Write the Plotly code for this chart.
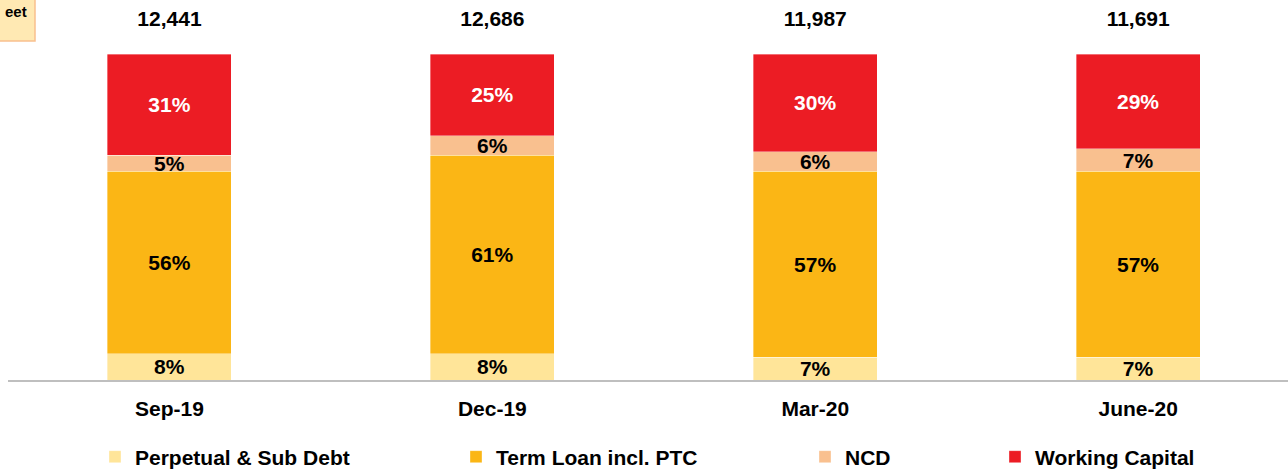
import plotly.graph_objects as go

periods = ["Sep-19", "Dec-19", "Mar-20", "June-20"]
totals = [12441, 12686, 11987, 11691]
perpetual = [8, 8, 7, 7]
term_loan = [56, 61, 57, 57]
ncd = [5, 6, 6, 7]
working_capital = [31, 25, 30, 29]

series = [
    ("Perpetual & Sub Debt", perpetual, "#FFE599", "#000000", "legend"),
    ("Term Loan incl. PTC", term_loan, "#FBB615", "#000000", "legend2"),
    ("NCD", ncd, "#F9C08F", "#000000", "legend3"),
    ("Working Capital", working_capital, "#EC1C24", "#FFFFFF", "legend4"),
]

FONT = "Liberation Sans, Arial, sans-serif"
FS = 21
fig = go.Figure()
for name, vals, color, tcolor, lg in series:
    fig.add_trace(go.Bar(
        x=periods, y=vals, name=name, legend=lg,
        marker=dict(color=color, line=dict(width=0.6, color="rgba(255,255,255,0.6)")),
        width=0.384,
        text=[f"{v}%" for v in vals], texttemplate="%{text}",
        textposition="inside", insidetextanchor="middle",
        textangle=0, constraintext="none",
        textfont=dict(family=FONT, size=FS, color=tcolor, weight="bold"),
        hoverinfo="skip",
    ))

fig.add_trace(go.Scatter(
    x=periods, y=[110.2] * len(periods), mode="text",
    text=[f"{t:,}" for t in totals],
    textfont=dict(family=FONT, size=FS, color="#000000", weight="bold"),
    showlegend=False, hoverinfo="skip",
))

W, H = 1288, 469
ml, mr, mt, mb = 8, 0, 0, 89
pw = W - ml - mr
ph = H - mt - mb

def lx(px):
    return (px - ml) / pw

def ly(py):
    return (H - mb - py) / ph

leg_y = ly(457)
legend_common = dict(orientation="h", yanchor="middle", y=leg_y, xanchor="left",
                     font=dict(family=FONT, size=FS, color="#000000", weight="bold"),
                     bgcolor="rgba(0,0,0,0)", itemwidth=30, itemclick=False)

fig.update_layout(
    width=W, height=H,
    margin=dict(l=ml, r=mr, t=mt, b=mb, autoexpand=False),
    barmode="stack",
    plot_bgcolor="#FFFFFF", paper_bgcolor="#FFFFFF",
    xaxis=dict(range=[-0.5, 3.464], showgrid=False, zeroline=False,
               showline=True, linecolor="#BFBFBF", linewidth=2,
               ticks="", ticklabelstandoff=9, automargin=False,
               tickfont=dict(family=FONT, size=FS, color="#000000", weight="bold")),
    yaxis=dict(range=[0, 116.6], visible=False, showgrid=False, zeroline=False),
    legend=dict(legend_common, x=lx(95)),
    legend2=dict(legend_common, x=lx(456)),
    legend3=dict(legend_common, x=lx(805)),
    legend4=dict(legend_common, x=lx(995)),
    showlegend=True,
)

# partial title box at top-left (cropped in the reference)
fig.add_shape(type="rect", xref="paper", yref="paper",
              x0=lx(-20), x1=lx(35), y0=ly(41), y1=ly(-10),
              fillcolor="#FFE9B3", line=dict(color="#F9C08F", width=1.5), layer="above")
fig.add_annotation(xref="paper", yref="paper", x=lx(29), y=ly(1),
                   xanchor="right", yanchor="top", text="eet", showarrow=False,
                   font=dict(family=FONT, size=15, color="#000000", weight="bold"))

fig.write_html("out.html", config={"displayModeBar": False},
               post_script="document.body.style.margin='0';document.body.style.overflow='hidden';")
